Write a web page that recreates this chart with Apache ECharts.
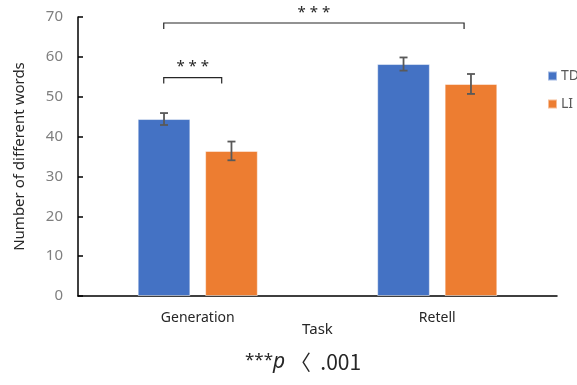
<!DOCTYPE html>
<html><head><meta charset="utf-8">
<script src="https://cdn.jsdelivr.net/npm/echarts@6/dist/echarts.min.js"></script>
<style>html,body{margin:0;padding:0;background:#fff}#c{width:577px;height:385px}</style>
</head><body><div id="c"></div>
<script>
const categories = ['Generation', 'Retell'];
const seriesNames = ['TD', 'LI'];
const tdValues = [44.4, 58.2];
const liValues = [36.4, 53.2];
const tdErrors = [1.5, 1.65];
const liErrors = [2.35, 2.5];
const yTicks = [0, 10, 20, 30, 40, 50, 60, 70];
// brackets: [startCategory, startFractionOfBand, endCategory, endFractionOfBand, yValue, label]
const brackets = [
  [0, -0.142, 1, 0.112, 68.5, '***'],
  [0, -0.142, 0, 0.1, 54.8, '***']
];
const colors = ['#4472C4', '#ED7D31'];
const BAR_W = 0.22, BAR_GAP = 0.28;

function seriesOffset(api, s) {
  const band = api.size([1, 0])[0];
  const bw = band * BAR_W, gw = bw * BAR_GAP;
  return (s === 0 ? -1 : 1) * (bw + gw) / 2;
}

function errSeries(idx, vals, errs) {
  return {
    type: 'custom', name: seriesNames[idx] + ' err', z: 10,
    data: vals.map((v, i) => [i, v - errs[i], v + errs[i]]),
    renderItem: function (params, api) {
      const off = seriesOffset(api, idx);
      const lo = api.coord([api.value(0), api.value(1)]);
      const hi = api.coord([api.value(0), api.value(2)]);
      const x = lo[0] + off, hw = 4;
      const st = { stroke: '#595959', lineWidth: 1.8 };
      return { type: 'group', children: [
        { type: 'line', shape: { x1: x, y1: lo[1], x2: x, y2: hi[1] }, style: st },
        { type: 'line', shape: { x1: x - hw, y1: lo[1], x2: x + hw, y2: lo[1] }, style: st },
        { type: 'line', shape: { x1: x - hw, y1: hi[1], x2: x + hw, y2: hi[1] }, style: st }
      ]};
    }
  };
}

const chart = echarts.init(document.getElementById('c'));
chart.setOption({
  animation: false,
  textStyle: { fontFamily: 'Noto Sans' },
  grid: { left: 78, right: 20, top: 17, bottom: 89 },
  legend: {
    orient: 'vertical', left: 547, top: 69, padding: 0, itemWidth: 9, itemHeight: 9, itemGap: 14,
    icon: 'rect', data: seriesNames,
    textStyle: { fontSize: 14, color: '#595959', fontFamily: 'Noto Sans', padding: [0, 0, 0, -1] }
  },
  xAxis: {
    type: 'category', data: categories,
    name: 'Task', nameLocation: 'middle', nameGap: 26, nameMoveOverlap: false,
    nameTextStyle: { fontSize: 15, color: '#262626' },
    axisLine: { lineStyle: { color: '#000', width: 1.5 } },
    axisTick: { inside: true, length: 4, lineStyle: { color: '#000', width: 1.5 } },
    axisLabel: { fontSize: 14, color: '#262626', margin: 15 }
  },
  yAxis: {
    type: 'value', min: 0, max: 70, interval: 10,
    name: 'Number of different words', nameLocation: 'middle', nameGap: 51,
    nameTextStyle: { fontSize: 15, color: '#262626' },
    axisLine: { show: true, lineStyle: { color: '#000', width: 1.5 } },
    axisTick: { show: true, inside: true, length: 5, lineStyle: { color: '#000', width: 1.5 } },
    axisLabel: { fontSize: 15, color: '#7f7f7f', margin: 15,
      formatter: v => yTicks.includes(v) ? String(v) : '' },
    splitLine: { show: false }
  },
  series: [
    { type: 'bar', name: 'TD', data: tdValues, barWidth: (BAR_W * 100) + '%', barGap: (BAR_GAP * 100) + '%',
      itemStyle: { color: colors[0], borderColor: 'rgba(255,255,255,0.5)', borderWidth: 1 } },
    { type: 'bar', name: 'LI', data: liValues, barWidth: (BAR_W * 100) + '%', barGap: (BAR_GAP * 100) + '%',
      itemStyle: { color: colors[1], borderColor: 'rgba(255,255,255,0.5)', borderWidth: 1 } },
    errSeries(0, tdValues, tdErrors),
    errSeries(1, liValues, liErrors),
    {
      type: 'custom', name: 'brackets', z: 10,
      data: brackets.map(b => [b[0], b[1], b[2], b[3], b[4]]),
      renderItem: function (params, api) {
        const b = brackets[params.dataIndex];
        const band = api.size([1, 0])[0];
        const p1 = api.coord([api.value(0), api.value(4)]);
        const p2 = api.coord([api.value(2), api.value(4)]);
        const x1 = p1[0] + api.value(1) * band;
        const x2 = p2[0] + api.value(3) * band;
        const y = p1[1], leg = 6;
        const st = { stroke: '#262626', lineWidth: 1.2, fill: null };
        return { type: 'group', children: [
          { type: 'polyline', shape: { points: [[x1, y + leg], [x1, y], [x2, y], [x2, y + leg]] }, style: st },
          { type: 'text', style: { text: b[5].split('').join(' '), x: (x1 + x2) / 2, y: y - 3, align: 'center', verticalAlign: 'bottom',
            fontSize: 15, fill: '#262626', fontFamily: 'Noto Sans' } }
        ]};
      }
    }
  ],
  graphic: [{
    type: 'text', left: 245, top: 352,
    style: {
      text: '{a|***}{b|p}{c| 〈  .001}',
      rich: {
        a: { fontSize: 17, fill: '#262626', fontFamily: 'Noto Sans', verticalAlign: 'top' },
        b: { fontSize: 21, fill: '#262626', fontStyle: 'italic', fontFamily: 'Noto Sans' },
        c: { fontSize: 21, fill: '#262626', fontFamily: 'Noto Sans CJK KR' }
      }
    }
  }]
});
</script></body></html>
